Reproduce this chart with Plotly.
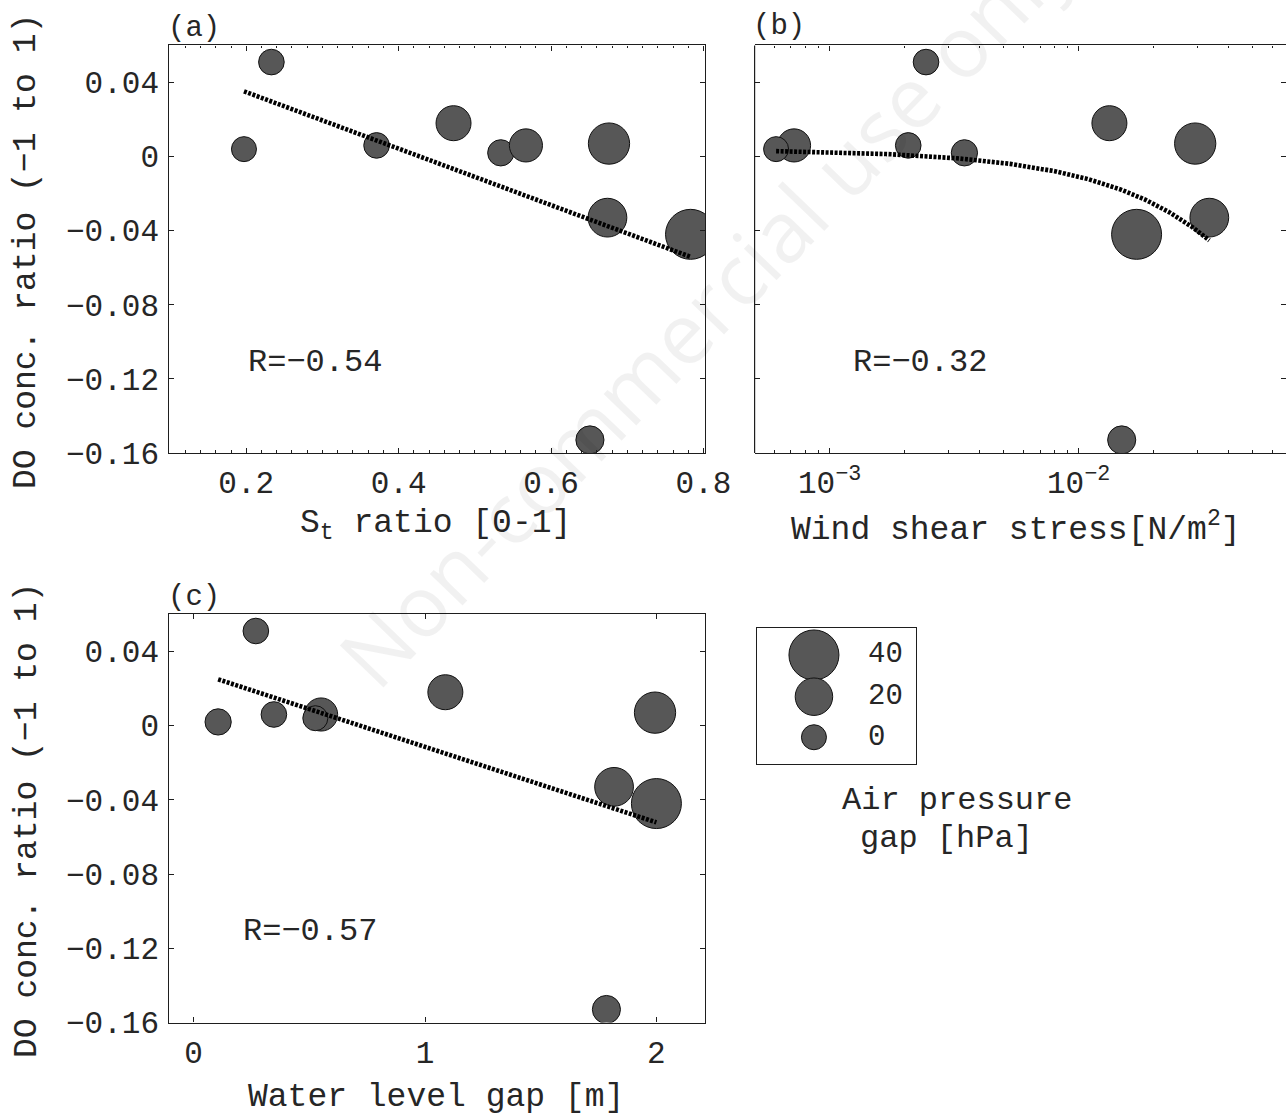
import numpy as np
import plotly.graph_objects as go

# ---- data: one entry per event, shared by all three panels ----
do_ratio = [0.051, 0.002, 0.006, 0.004, 0.006, 0.018, 0.007, -0.033, -0.042, -0.153]
pressure_gap = [1, 2, 13, 0, 1, 16, 26, 22, 40, 5]          # hPa
st_ratio = [0.233, 0.534, 0.567, 0.197, 0.371, 0.472, 0.676, 0.674, 0.783, 0.651]
wind_stress = [2.44e-3, 3.48e-3, 7.2e-4, 6.1e-4, 2.07e-3, 1.33e-2, 2.94e-2, 3.35e-2, 1.71e-2, 1.49e-2]
water_gap = [0.269, 0.106, 0.551, 0.526, 0.347, 1.088, 1.994, 1.817, 2.0, 1.784]

r_labels = ["R=−0.54", "R=−0.32", "R=−0.57"]
panel_labels = ["(a)", "(b)", "(c)"]

y_tick_vals = [-0.16, -0.12, -0.08, -0.04, 0, 0.04]
y_tick_text = ["−0.16", "−0.12", "−0.08", "−0.04", "0", "0.04"]
xa_tick_vals = [0.2, 0.4, 0.6, 0.8]
xb_tick_vals = [1e-3, 1e-2]
xb_tick_text = ["10<sup>−3</sup>", "10<sup>−2</sup>"]
xb_minor_vals = [6e-4, 7e-4, 8e-4, 9e-4, 2e-3, 3e-3, 4e-3, 5e-3, 6e-3, 7e-3,
                 8e-3, 9e-3, 2e-2, 3e-2, 4e-2, 5e-2, 6e-2]
xc_tick_vals = [0, 1, 2]

legend_values = [40, 20, 0]

W, H = 1286, 1117
FONT = "Liberation Mono"
INK = "#1e1e1e"
FILL = "#575757"


def px(xp):
    return xp / W


def py(yp):
    return 1 - yp / H


def diam(p):
    # bubble diameter (px) grows linearly with the air pressure gap
    return [25 + 0.625 * v for v in p]


fig = go.Figure()

marker = dict(color=FILL, size=diam(pressure_gap), sizemode="diameter",
              line=dict(color="#111111", width=1), opacity=1)
fit_line = dict(color="black", width=4.6, dash="3px,1.5px")


def lsq(x, y):
    slope, icpt = np.polyfit(np.asarray(x, float), np.asarray(y, float), 1)
    return slope, icpt


# (a) St ratio
fig.add_trace(go.Scatter(x=st_ratio, y=do_ratio, mode="markers", marker=marker,
                         xaxis="x", yaxis="y", showlegend=False))
s, c = lsq(st_ratio, do_ratio)
xa = np.array([min(st_ratio), max(st_ratio)])
fig.add_trace(go.Scatter(x=xa, y=s * xa + c, mode="lines", line=fit_line,
                         xaxis="x", yaxis="y", showlegend=False))

# (b) wind shear stress (log axis; the fit is linear in stress, so sample it densely)
fig.add_trace(go.Scatter(x=wind_stress, y=do_ratio, mode="markers", marker=marker,
                         xaxis="x2", yaxis="y2", showlegend=False))
s, c = lsq(wind_stress, do_ratio)
xb = np.linspace(min(wind_stress), max(wind_stress), 400)
fig.add_trace(go.Scatter(x=xb, y=s * xb + c, mode="lines", line=fit_line,
                         xaxis="x2", yaxis="y2", showlegend=False))

# (c) water level gap
fig.add_trace(go.Scatter(x=water_gap, y=do_ratio, mode="markers", marker=marker,
                         xaxis="x3", yaxis="y3", showlegend=False))
s, c = lsq(water_gap, do_ratio)
xc = np.array([min(water_gap), max(water_gap)])
fig.add_trace(go.Scatter(x=xc, y=s * xc + c, mode="lines", line=fit_line,
                         xaxis="x3", yaxis="y3", showlegend=False))

# bubble-size key
key_y = [0.804, 0.497, 0.199]
fig.add_trace(go.Scatter(x=[0.36] * 3, y=key_y, mode="markers",
                         marker=dict(color=FILL, size=diam(legend_values), sizemode="diameter",
                                     line=dict(color="#111111", width=1), opacity=1),
                         xaxis="x4", yaxis="y4", showlegend=False, cliponaxis=False))

axis_common = dict(showgrid=False, zeroline=False, ticks="inside", ticklen=5,
                   tickcolor=INK, linecolor=INK, linewidth=1.2, automargin=False,
                   tickfont=dict(family=FONT, size=31, color="#262626"))

ya_dom = [py(452.9), py(45.4)]
yc_dom = [py(1022.5), py(614.3)]

fig.update_layout(
    width=W, height=H, margin=dict(l=0, r=0, t=0, b=0),
    paper_bgcolor="white", plot_bgcolor="white", showlegend=False,
    xaxis=dict(axis_common, domain=[px(169.3), px(705)], range=[0.099, 0.802], anchor="y",
               tickvals=xa_tick_vals, showline=True, mirror="ticks", ticklabelstandoff=2,
               minor=dict(ticks="inside", dtick=0.02, tick0=0, ticklen=2.5, tickcolor=INK)),
    yaxis=dict(axis_common, domain=ya_dom, range=[-0.16, 0.06], anchor="x",
               tickvals=y_tick_vals, ticktext=y_tick_text, showline=True, mirror="ticks",
               ticklabelstandoff=3),
    xaxis2=dict(axis_common, type="log", domain=[px(754.6), 1.0], range=[-3.301, -1.167],
                anchor="y2", tickvals=xb_tick_vals, ticktext=xb_tick_text, showline=True,
                mirror="ticks", ticklabelstandoff=2,
                minor=dict(ticks="inside", tickvals=xb_minor_vals, ticklen=2.5, tickcolor=INK)),
    yaxis2=dict(axis_common, domain=ya_dom, range=[-0.16, 0.06], anchor="x2",
                tickvals=y_tick_vals, showticklabels=False, showline=False, mirror="ticks"),
    xaxis3=dict(axis_common, domain=[px(169.3), px(705)], range=[-0.105, 2.21], anchor="y3",
                tickvals=xc_tick_vals, showline=True, mirror="ticks", ticklabelstandoff=2),
    yaxis3=dict(axis_common, domain=yc_dom, range=[-0.16, 0.06], anchor="x3",
                tickvals=y_tick_vals, ticktext=y_tick_text, showline=True, mirror="ticks",
                ticklabelstandoff=3),
    xaxis4=dict(domain=[px(756.7), px(915.7)], range=[0, 1], anchor="y4", showgrid=False,
                zeroline=False, showticklabels=False, ticks="", showline=True, mirror=True,
                linecolor=INK, linewidth=1.2, fixedrange=True),
    yaxis4=dict(domain=[py(764.3), py(628.3)], range=[0, 1], anchor="x4", showgrid=False,
                zeroline=False, showticklabels=False, ticks="", showline=True, mirror=True,
                linecolor=INK, linewidth=1.2, fixedrange=True),
)

# left frame edge of panel (b)
fig.add_shape(type="line", xref="x2 domain", yref="y2 domain", x0=0, x1=0, y0=0, y1=1,
              line=dict(color=INK, width=1.2))

ann = []
txt = dict(family=FONT, color="#262626")

# panel letters
for lab, (xp, yp) in zip(panel_labels, [(166, 28), (751, 27), (166, 597)]):
    ann.append(dict(text=lab, xref="paper", yref="paper", x=px(xp), y=py(yp),
                    xanchor="left", yanchor="middle", showarrow=False,
                    font=dict(txt, size=29)))

# correlation labels
ann.append(dict(text=r_labels[0], xref="x", yref="y", x=0.199, y=-0.111, xanchor="left",
                yanchor="middle", showarrow=False, font=dict(txt, size=32)))
ann.append(dict(text=r_labels[1], xref="x2", yref="y2", x=np.log10(1.22e-3), y=-0.111,
                xanchor="left", yanchor="middle", showarrow=False, font=dict(txt, size=32)))
ann.append(dict(text=r_labels[2], xref="x3", yref="y3", x=0.204, y=-0.111, xanchor="left",
                yanchor="middle", showarrow=False, font=dict(txt, size=32)))

# axis titles
for t, (xp, yp) in zip(["S<sub>t</sub> ratio [0-1]", "Wind shear stress[N/m<sup>2</sup>]",
                        "Water level gap [m]"],
                       [(435, 525), (1016, 527), (435.5, 1097)]):
    ann.append(dict(text=t, xref="paper", yref="paper", x=px(xp), y=py(yp),
                    xanchor="center", yanchor="middle", showarrow=False,
                    font=dict(txt, size=33)))
for yp in (252, 821):
    ann.append(dict(text="DO conc. ratio (−1 to 1)", xref="paper", yref="paper",
                    x=px(27), y=py(yp), xanchor="center", yanchor="middle",
                    textangle=-90, showarrow=False, font=dict(txt, size=33)))

# key labels and caption
for v, yk in zip(legend_values, key_y):
    ann.append(dict(text=str(v), xref="x4", yref="y4", x=0.69, y=yk, xanchor="left",
                    yanchor="middle", showarrow=False, font=dict(txt, size=29)))
ann.append(dict(text="Air pressure", xref="paper", yref="paper", x=px(957.4), y=py(800),
                xanchor="center", yanchor="middle", showarrow=False, font=dict(txt, size=32)))
ann.append(dict(text="gap [hPa]", xref="paper", yref="paper", x=px(946.5), y=py(838),
                xanchor="center", yanchor="middle", showarrow=False, font=dict(txt, size=32)))

# faint diagonal stamp
ann.append(dict(text="Non-commercial use only", xref="paper", yref="paper",
                x=px(704), y=py(308), xanchor="center", yanchor="middle", textangle=-46,
                showarrow=False, font=dict(family="Open Sans", size=85,
                                           color="rgba(0,0,0,0.055)")))

fig.update_layout(annotations=ann)

fig.write_html("out.html")
